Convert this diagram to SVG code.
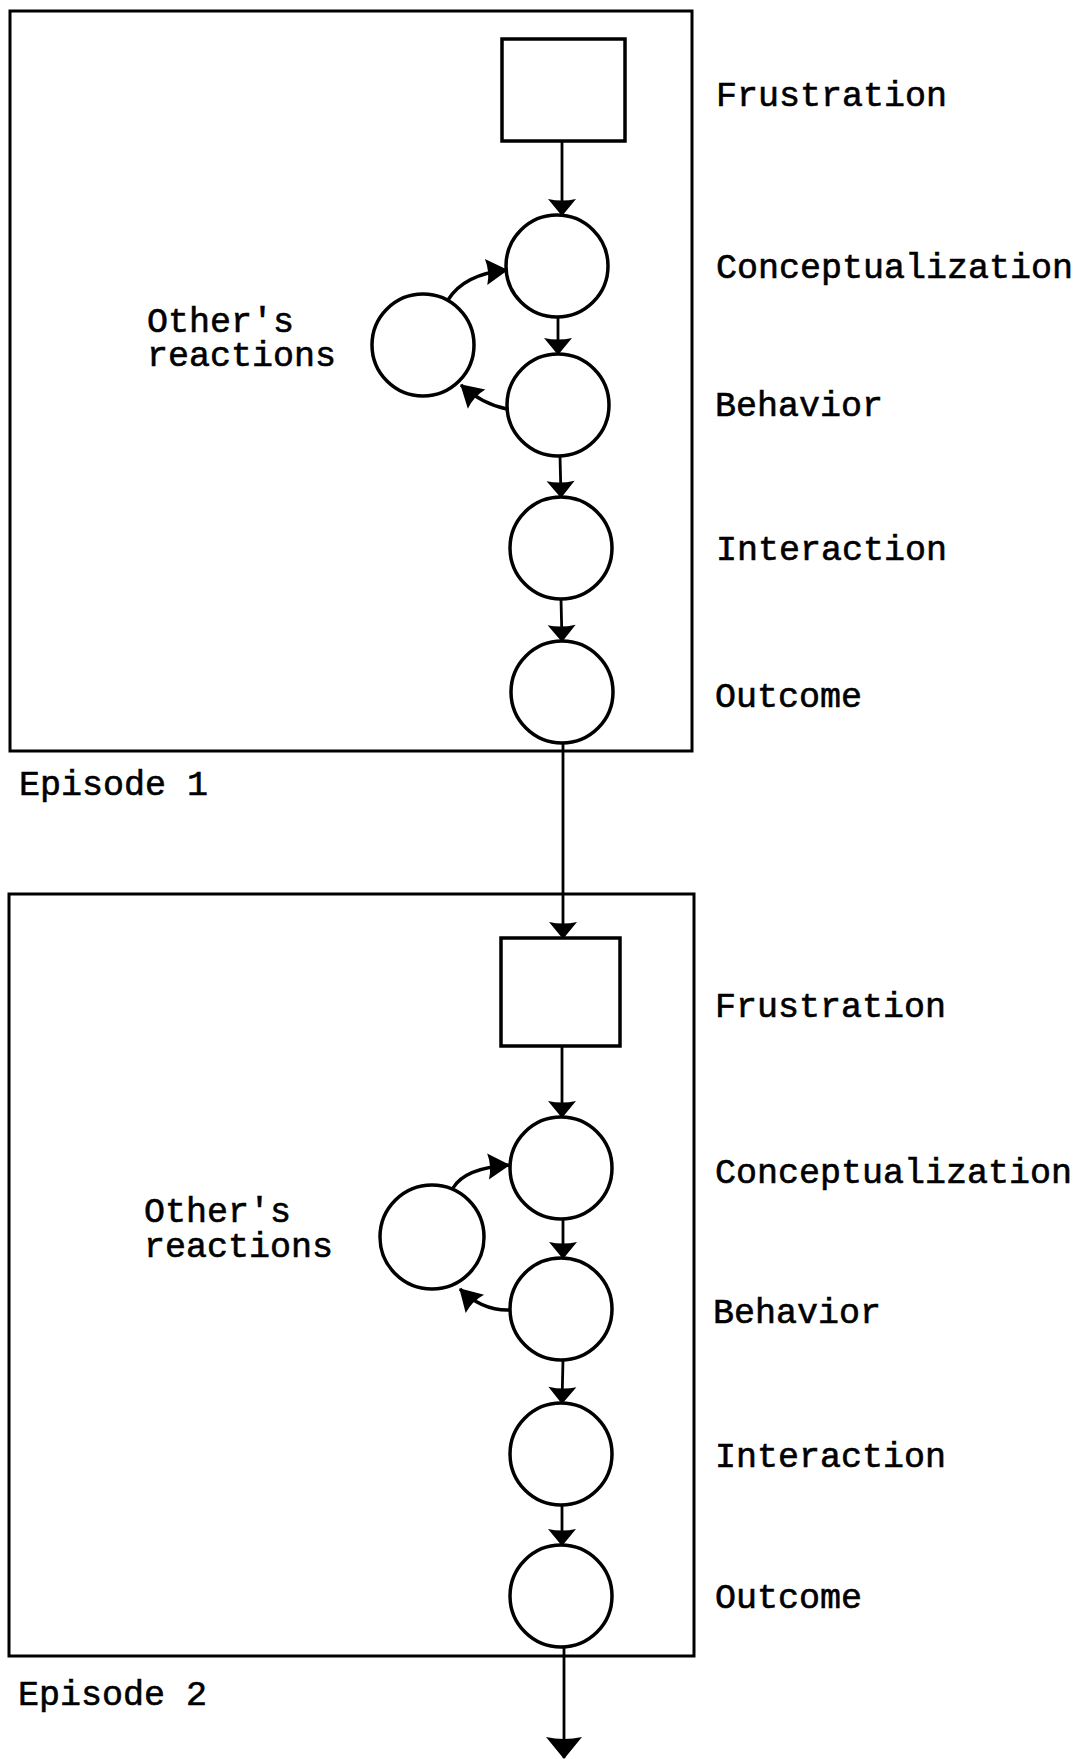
<svg xmlns="http://www.w3.org/2000/svg" width="1082" height="1759" viewBox="0 0 1082 1759">
  <style>
    .frame { fill: none; stroke: #000; stroke-width: 3; }
    .node { fill: #fff; stroke: #000; stroke-width: 3.5; }
    .link { fill: none; stroke: #000; stroke-width: 2.8; }
    .loop { fill: none; stroke: #000; stroke-width: 3.4; }
    text { font-family: "Liberation Mono", "DejaVu Sans Mono", monospace; font-size: 35px; fill: #000; stroke: #000; stroke-width: 0.6; }
  </style>
  <defs>
    <marker id="arrow" markerUnits="userSpaceOnUse" viewBox="-18 -15 20 30" markerWidth="20" markerHeight="30" refX="0" refY="0" orient="auto">
      <path d="M1,0 L-16,-14 Q-13,0 -16,14 Z" fill="#000"/>
    </marker>
    <marker id="arrow-loop" markerUnits="userSpaceOnUse" viewBox="-24 -15 26 30" markerWidth="26" markerHeight="30" refX="0" refY="0" orient="auto">
      <path d="M1,0 L-21,-13 Q-17,0 -21,13 Z" fill="#000"/>
    </marker>
    <marker id="arrow-big" markerUnits="userSpaceOnUse" viewBox="-24 -19 26 38" markerWidth="26" markerHeight="38" refX="0" refY="0" orient="auto">
      <path d="M1,0 L-21,-18 Q-17,0 -21,18 Z" fill="#000"/>
    </marker>
  </defs>

  <rect fill="#fff" x="0" y="0" width="1082" height="1759"/>

  <!-- Episode 1 -->
  <g id="episode-1">
    <rect class="frame" x="10" y="11" width="682" height="740"/>
    <text x="19" y="795">Episode 1</text>
  </g>
  <g id="e1-frustration">
    <rect class="node" x="502" y="39" width="123" height="102"/>
    <text x="716" y="106">Frustration</text>
  </g>
  <g id="e1-conceptualization">
    <circle class="node" cx="557" cy="266" r="51"/>
    <text x="716" y="278">Conceptualization</text>
  </g>
  <g id="e1-others-reactions">
    <circle class="node" cx="423" cy="345" r="51"/>
    <text x="147" y="332">Other's</text>
    <text x="147" y="366">reactions</text>
  </g>
  <g id="e1-behavior">
    <circle class="node" cx="558" cy="405" r="51"/>
    <text x="715" y="416">Behavior</text>
  </g>
  <g id="e1-interaction">
    <circle class="node" cx="561" cy="548" r="51"/>
    <text x="716" y="560">Interaction</text>
  </g>
  <g id="e1-outcome">
    <circle class="node" cx="562" cy="692" r="51"/>
    <text x="715" y="707">Outcome</text>
  </g>

  <!-- Episode 2 -->
  <g id="episode-2">
    <rect class="frame" x="9" y="894" width="685" height="762"/>
    <text x="18" y="1705">Episode 2</text>
  </g>
  <g id="e2-frustration">
    <rect class="node" x="501" y="938" width="119" height="108"/>
    <text x="715" y="1017">Frustration</text>
  </g>
  <g id="e2-conceptualization">
    <circle class="node" cx="561" cy="1168" r="51"/>
    <text x="715" y="1183">Conceptualization</text>
  </g>
  <g id="e2-others-reactions">
    <circle class="node" cx="432" cy="1237" r="52"/>
    <text x="144" y="1222">Other's</text>
    <text x="144" y="1257">reactions</text>
  </g>
  <g id="e2-behavior">
    <circle class="node" cx="561" cy="1309" r="51"/>
    <text x="713" y="1323">Behavior</text>
  </g>
  <g id="e2-interaction">
    <circle class="node" cx="561" cy="1454" r="51"/>
    <text x="715" y="1467">Interaction</text>
  </g>
  <g id="e2-outcome">
    <circle class="node" cx="561" cy="1596" r="51"/>
    <text x="715" y="1608">Outcome</text>
  </g>

  <!-- Connectors -->
  <g id="connectors">
    <!-- episode 1 chain -->
    <line class="link" x1="562" y1="141" x2="562" y2="215" marker-end="url(#arrow)"/>
    <line class="link" x1="558" y1="317" x2="558" y2="354" marker-end="url(#arrow)"/>
    <line class="link" x1="560" y1="456" x2="561" y2="497" marker-end="url(#arrow)"/>
    <line class="link" x1="561" y1="599" x2="562" y2="641" marker-end="url(#arrow)"/>
    <!-- loop through other's reactions -->
    <path class="loop" d="M448,300 Q464,274 507,270" marker-end="url(#arrow-loop)"/>
    <path class="loop" d="M507,409 Q482,404 461,385" marker-end="url(#arrow-loop)"/>
    <!-- episode 1 outcome into episode 2 -->
    <line class="link" x1="563" y1="743" x2="563" y2="938" marker-end="url(#arrow)"/>
    <!-- episode 2 chain -->
    <line class="link" x1="562" y1="1046" x2="562" y2="1117" marker-end="url(#arrow)"/>
    <line class="link" x1="563" y1="1219" x2="563" y2="1258" marker-end="url(#arrow)"/>
    <line class="link" x1="563" y1="1360" x2="562" y2="1403" marker-end="url(#arrow)"/>
    <line class="link" x1="562" y1="1505" x2="562" y2="1545" marker-end="url(#arrow)"/>
    <path class="loop" d="M453,1188 Q465,1168 509,1165" marker-end="url(#arrow-loop)"/>
    <path class="loop" d="M510,1310 Q482,1311 460,1289" marker-end="url(#arrow-loop)"/>
    <!-- onward from episode 2 -->
    <line class="link" x1="564" y1="1647" x2="564" y2="1758" marker-end="url(#arrow-big)"/>
  </g>
</svg>
